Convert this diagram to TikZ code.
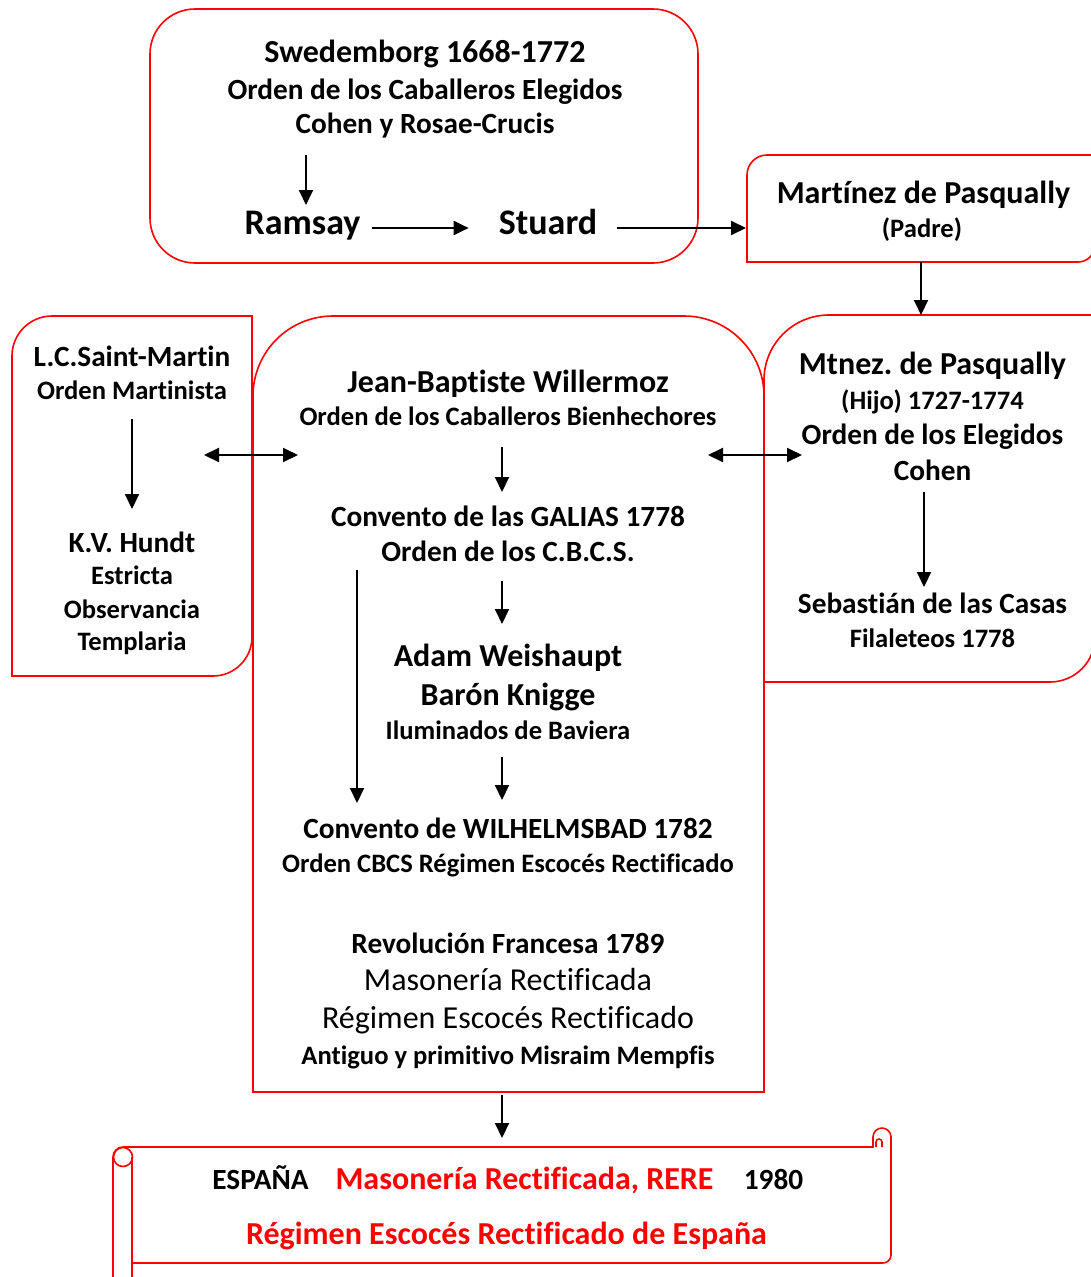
\documentclass[tikz,border=0pt]{standalone}
\usepackage{fontspec}
\setmainfont{Carlito}[Ligatures=NoCommon]
\usetikzlibrary{arrows.meta}
\begin{document}
\begin{tikzpicture}[x=1pt,y=-1pt,
  t/.style={anchor=base,inner sep=0pt,font=\fontsize{#1}{#1}\selectfont\bfseries},t/.default=29.3,
  rg/.style={anchor=base,inner sep=0pt,font=\fontsize{32}{32}\selectfont},
  box/.style={draw=red,line width=1.6pt},
  arr/.style={line width=2pt,-{Triangle[length=15pt,width=14pt]}},
  darr/.style={line width=2pt,{Triangle[length=15pt,width=14pt]}-{Triangle[length=15pt,width=14pt]}}]
\useasboundingbox (0,0) rectangle (1091,1277);
\clip (0,0) rectangle (1091,1277);
\draw[box,rounded corners=45pt] (150,9) rectangle (698,263);
\draw[box] (747,262) -- (747,175) arc[start angle=180,end angle=270,radius=20] -- (1095,155) -- (1095,245) arc[start angle=0,end angle=90,radius=17] -- cycle;
\draw[box] (764,682) -- (764,380) arc[start angle=180,end angle=270,radius=65] -- (1095,315) -- (1095,637) arc[start angle=0,end angle=90,radius=45] -- cycle;
\draw[box] (12,676) -- (12,356) arc[start angle=180,end angle=270,radius=40] -- (252,316) -- (252,637) arc[start angle=0,end angle=90,radius=39] -- cycle;
\draw[box] (253,1092) -- (253,396) arc[start angle=180,end angle=270,radius=80] -- (684,316) arc[start angle=270,end angle=360,radius=80] -- (764,1092) -- cycle;
\draw[box] (113,1280) -- (113,1157) arc[start angle=180,end angle=270,radius=10] -- (873,1147) -- (873,1137) arc[start angle=180,end angle=360,radius=9] -- (891,1255) arc[start angle=0,end angle=90,radius=8] -- (132,1263)
  (123,1157) circle[radius=9.5] (132,1157) -- (132,1280) (876,1147) -- (876,1142) arc[start angle=180,end angle=360,radius=3] -- (882,1147);
\coordinate (mpw) at (746,228);
\coordinate (rbt) at (921,315);
\path (425,62) node[t=32] (swe) {Swedemborg 1668-1772} ++(0,37) node[t] (oce) {Orden de los Caballeros Elegidos} ++(0,34) node[t] (crc) {Cohen y Rosae-Crucis}
  (302.5,234) node[t=36] (ram) {Ramsay} (548,234) node[t=36] (stu) {Stuard};
\path (923.5,203) node[t=32] (mp) {Martínez de Pasqually} (922,237) node[t=26.6] (pad) {(Padre)};
\path (932.5,374) node[t=32] (mtz) {Mtnez.\ de Pasqually} ++(0,35) node[t=26.6] (hij) {(Hijo) 1727-1774} ++(0,35) node[t] (oel) {Orden de los Elegidos} ++(0,36) node[t] (coh) {Cohen}
  (932.5,613) node[t] (seb) {Sebastián de las Casas} ++(0,34) node[t=26.6] (fil) {Filaleteos 1778};
\path (132,366) node[t] (lcs) {L.C.Saint-Martin} ++(0,33) node[t=26.6] (om) {Orden Martinista}
  (132,552) node[t] (kvh) {K.V.\ Hundt} ++(0,32) node[t=26.6] (est) {Estricta} ++(0,34) node[t=26.6] (obs) {Observancia} ++(0,32) node[t=26.6] (tem) {Templaria};
\path (508,392) node[t=32] (jbw) {Jean-Baptiste Willermoz} ++(0,33) node[t=26.6] (ocb) {Orden de los Caballeros Bienhechores}
  (508,526) node[t] (gal) {Convento de las GALIAS 1778} ++(0,35) node[t] (cbc) {Orden de los C.B.C.S.}
  (508,666) node[t=32] (adw) {Adam Weishaupt} ++(0,39) node[t=32] (bkn) {Barón Knigge} ++(0,34) node[t=26.6] (ilu) {Iluminados de Baviera}
  (508,838) node[t] (wil) {Convento de WILHELMSBAD 1782} ++(0,34) node[t=26.6] (rer) {Orden CBCS Régimen Escocés Rectificado}
  (508,953) node[t] (rev) {Revolución Francesa 1789} ++(0,37) node[rg] (mre) {Masonería Rectificada} ++(0,38) node[rg] (rec) {Régimen Escocés Rectificado} ++(0,36) node[t=26.6] (amm) {Antiguo y primitivo Misraim Mempfis};
\path (260.5,1189) node[t] (esp) {ESPAÑA} (524.5,1189) node[t=32,text=red] (mas) {Masonería Rectificada, RERE} (773.5,1189) node[t] (yr) {1980}
  (506.5,1244) node[t=32,text=red] (rep) {Régimen Escocés Rectificado de España};
\draw[arr] ([xshift=3.5pt,yshift=-22pt]crc.base -| ram.base) -- ([xshift=3.5pt,yshift=29pt]ram.base);
\draw[arr] ([xshift=11pt,yshift=6pt]ram.base east) -- ([xshift=-30pt,yshift=6pt]stu.base west);
\draw[arr] ([xshift=20pt,yshift=6pt]stu.base east) -- (mpw);
\draw[arr] ([xshift=-1pt,yshift=-25pt]pad.base) -- (rbt);
\draw[arr] ([xshift=-8.5pt,yshift=-12pt]coh.base) -- ([xshift=-8.5pt,yshift=26pt]seb.base);
\draw[arr] ([yshift=-20pt]om.base) -- ([yshift=43pt]kvh.base);
\draw[arr] ([xshift=-6pt,yshift=-22pt]ocb.base) -- ([xshift=-6pt,yshift=34pt]gal.base);
\draw[arr] ([xshift=-6pt,yshift=-20pt]cbc.base) -- ([xshift=-6pt,yshift=42pt]adw.base);
\draw[arr] ([xshift=-6pt,yshift=-18pt]ilu.base) -- ([xshift=-6pt,yshift=38pt]wil.base);
\draw[arr] ([xshift=-151pt,yshift=-9pt]cbc.base) -- ([xshift=-151pt,yshift=35pt]wil.base);
\draw[arr] ([xshift=-6pt,yshift=-31pt]amm.base) -- ([xshift=-22.5pt,yshift=51pt]mas.base);
\draw[darr] ([xshift=72pt,yshift=-56pt]om.base) -- ([xshift=-210pt,yshift=-63pt]jbw.base);
\draw[darr] ([xshift=200pt,yshift=-63pt]jbw.base) -- ([xshift=-130.5pt,yshift=-11pt]oel.base);
\end{tikzpicture}
\end{document}
